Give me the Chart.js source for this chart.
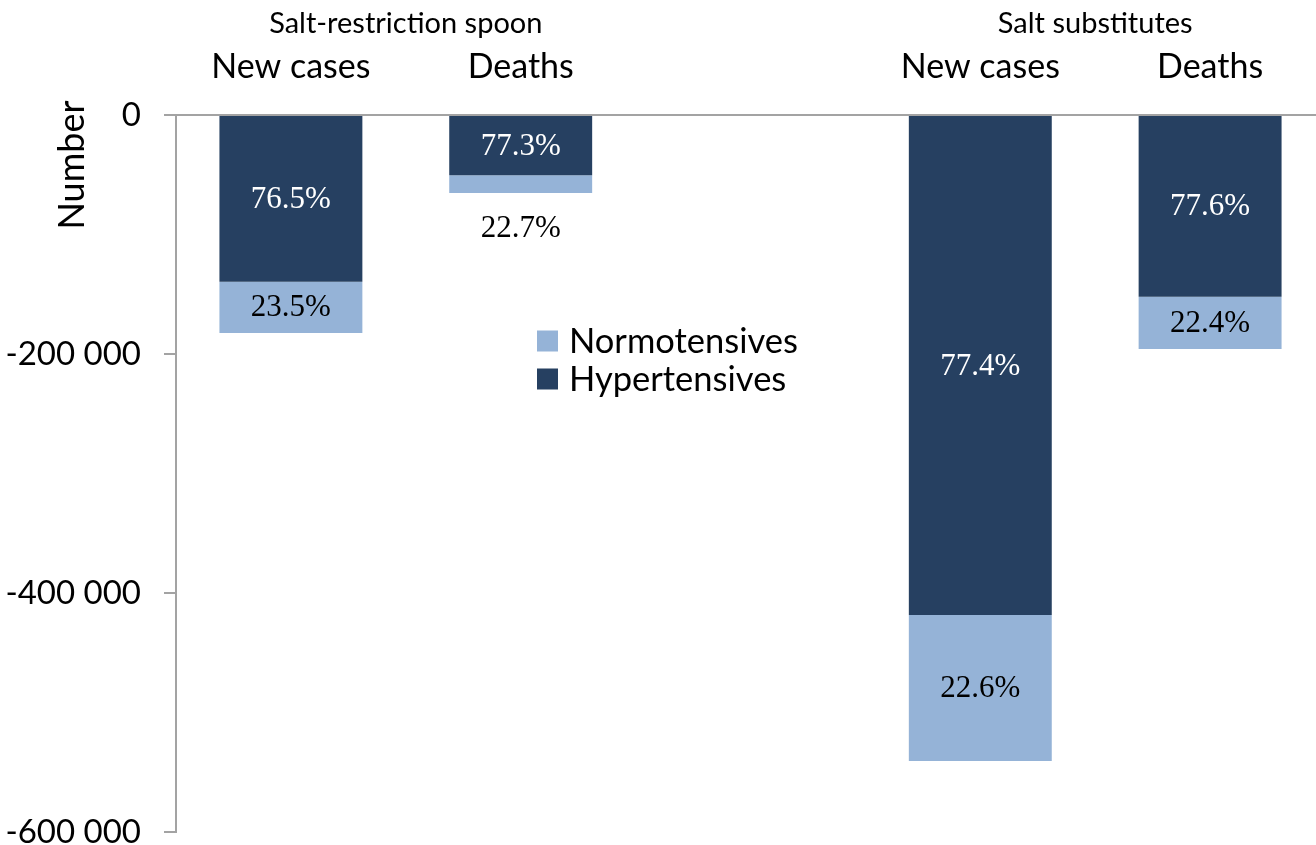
<!DOCTYPE html>
<html>
<head>
<meta charset="utf-8">
<script src="https://cdn.jsdelivr.net/npm/chart.js@4.4.1/dist/chart.umd.min.js"></script>
<style>
  html, body { margin:0; padding:0; background:#fff; overflow:hidden; }
  #wrap { width:1316px; height:845px; overflow:hidden; position:relative; }
  canvas { display:block; }
</style>
</head>
<body>
<div id="wrap"><canvas id="c" width="1330" height="870"></canvas></div>
<script>
// ---- data ----
const categories = ['New cases', 'Deaths', '', 'New cases', 'Deaths'];
const groupTitles = ['Salt-restriction spoon', 'Salt substitutes'];
const groupSpans = [[0, 1], [3, 4]];
const hypertensives = [-139500, -50500, null, -418400, -152000];
const normotensives = [-42900, -14800, null, -122200, -43900];
const hyperPct = ['76.5%', '77.3%', '', '77.4%', '77.6%'];
const normoPct = ['23.5%', '22.7%', '', '22.6%', '22.4%'];
const yTicks = [0, -200000, -400000, -600000];
const yTitle = 'Number';

const DARK = '#264061';
const LIGHT = '#95B3D7';
const AXIS = '#a3a3a3';
const SANS = 'Lato, "Open Sans", sans-serif';
const SERIF = '"Liberation Serif", "DejaVu Serif", serif';

const fmt = v => {
  const s = Math.abs(v).toString().replace(/\B(?=(\d{3})+(?!\d))/g, ' ');
  return (v < 0 ? '-' : '') + s;
};

const overlay = {
  id: 'overlay',
  afterDatasetsDraw(chart) {
    const ctx = chart.ctx;
    const pctSets = [hyperPct, normoPct];
    ctx.save();
    ctx.font = '31px ' + SERIF;
    ctx.textAlign = 'center';
    ctx.textBaseline = 'middle';
    chart.data.datasets.forEach((ds, di) => {
      const meta = chart.getDatasetMeta(di);
      meta.data.forEach((bar, i) => {
        const txt = pctSets[di][i];
        if (!txt || ds.data[i] == null) return;
        const top = Math.min(bar.y, bar.base), bot = Math.max(bar.y, bar.base);
        const h = bot - top;
        let y, color;
        if (h >= 36) {
          y = (top + bot) / 2;
          color = di === 0 ? '#ffffff' : '#000000';
        } else {
          y = bot + 35;
          color = '#000000';
        }
        ctx.fillStyle = color;
        ctx.fillText(txt, bar.x, y + 1);
      });
    });
    ctx.restore();
  },
  afterDraw(chart) {
    const ctx = chart.ctx;
    const xs = chart.scales.x;
    ctx.save();
    // group titles
    ctx.fillStyle = '#000';
    ctx.font = '29px ' + SANS;
    ctx.textAlign = 'center';
    ctx.textBaseline = 'middle';
    groupTitles.forEach((t, g) => {
      const [a, b] = groupSpans[g];
      const x = (xs.getPixelForValue(a) + xs.getPixelForValue(b)) / 2;
      ctx.fillText(t, x, 24);
    });
    // y title
    ctx.save();
    ctx.translate(72, 165);
    ctx.rotate(-Math.PI / 2);
    ctx.font = '36px ' + SANS;
    ctx.textAlign = 'center';
    ctx.textBaseline = 'middle';
    ctx.fillText(yTitle, 0, 0);
    ctx.restore();
    // legend (inside plot)
    const order = [1, 0];
    const lx = 537, ly0 = 341, step = 38, sq = 21;
    ctx.font = '34.5px ' + SANS;
    ctx.textAlign = 'left';
    order.forEach((di, k) => {
      const ds = chart.data.datasets[di];
      const cy = ly0 + k * step;
      ctx.fillStyle = ds.backgroundColor;
      ctx.fillRect(lx, cy - sq / 2, sq, sq);
      ctx.fillStyle = '#000';
      ctx.fillText(ds.label, lx + 32, cy + 1);
    });
    ctx.restore();
  }
};

new Chart(document.getElementById('c'), {
  type: 'bar',
  data: {
    labels: categories,
    datasets: [
      { label: 'Hypertensives', data: hypertensives, backgroundColor: DARK,
        categoryPercentage: 1, barPercentage: 0.622 },
      { label: 'Normotensives', data: normotensives, backgroundColor: LIGHT,
        categoryPercentage: 1, barPercentage: 0.622 }
    ]
  },
  options: {
    responsive: false,
    animation: false,
    devicePixelRatio: 1,
    layout: { padding: { left: 0, top: 0, right: 5, bottom: 38 } },
    plugins: { legend: { display: false }, tooltip: { enabled: false } },
    scales: {
      x: {
        position: 'top',
        stacked: true,
        offset: true,
        grid: { display: false },
        border: { display: true, color: AXIS, width: 2 },
        ticks: { color: '#000', font: { family: SANS, size: 34 }, padding: 20, maxRotation: 0, autoSkip: false },
        afterFit(s) { s.height = 115; s.paddingLeft = 0; s.paddingRight = 0; }
      },
      y: {
        stacked: true,
        min: -600000,
        max: 0,
        afterBuildTicks(s) { s.ticks = yTicks.map(v => ({ value: v })); },
        grid: { drawOnChartArea: false, drawTicks: true, tickLength: 12, color: AXIS, lineWidth: 2 },
        border: { display: true, color: AXIS, width: 2 },
        ticks: { color: '#000', font: { family: SANS, size: 33 }, padding: 23, callback: v => fmt(v) },
        afterFit(s) { s.width = 176; s.paddingTop = 0; s.paddingBottom = 0; }
      }
    }
  },
  plugins: [overlay]
});
</script>
</body>
</html>
